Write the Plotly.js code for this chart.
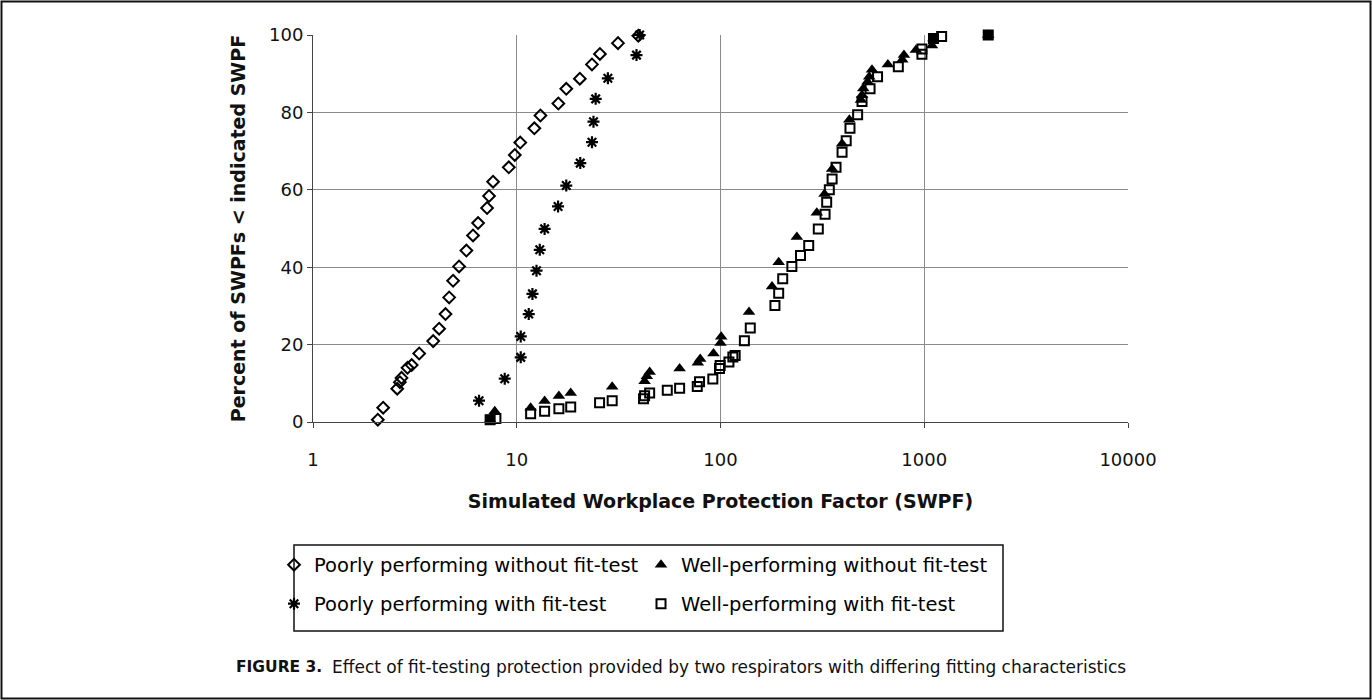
<!DOCTYPE html>
<html>
<head>
<meta charset="utf-8">
<script src="https://cdn.plot.ly/plotly-3.0.1.min.js"></script>
<style>
  html, body { margin: 0; padding: 0; background: #ffffff; }
  #chart { width: 1372px; height: 700px; }
</style>
</head>
<body>
<div id="chart"></div>
<script>
// ---- Data ----
// Poorly performing respirator, without fit-test (open diamonds)
const poorNoFitX = [2.08, 2.21, 2.59, 2.67, 2.72, 2.91, 3.05, 3.32, 3.89, 4.16, 4.47, 4.66, 4.87, 5.21, 5.66, 6.10,
                    6.46, 7.15, 7.31, 7.65, 9.14, 9.78, 10.4, 12.2, 13.07, 16.0, 17.5, 20.4, 23.4, 25.6, 31.4, 39.5];
const poorNoFitY = [0.6, 3.7, 8.6, 10.3, 11.4, 14.0, 14.7, 17.7, 20.9, 24.1, 27.9, 32.2, 36.5, 40.2, 44.3, 48.2,
                    51.4, 55.3, 58.4, 62.1, 65.8, 69.0, 72.2, 75.9, 79.2, 82.3, 86.1, 88.7, 92.4, 95.1, 97.9, 99.8];

// Poorly performing respirator, with fit-test (asterisks)
const poorFitX = [6.53, 8.73, 10.46, 10.46, 11.45, 11.94, 12.5, 12.97, 13.7, 15.95, 17.5, 20.5, 23.4, 23.8, 24.4, 28.0, 38.7, 40.1];
const poorFitY = [5.5, 11.2, 16.7, 22.1, 27.9, 33.1, 39.1, 44.5, 49.9, 55.7, 61.1, 66.9, 72.3, 77.6, 83.5, 88.8, 94.8, 100];

// Well-performing respirator, without fit-test (filled triangles)
const wellNoFitX = [7.4, 7.8, 11.7, 13.7, 16.1, 18.4, 29.4, 42.4, 43.5, 44.9, 63, 77.4, 79.5, 92.4, 100, 100.8,
                    138, 179, 193, 237, 297, 324, 353, 395, 429, 489, 495, 502, 527, 537, 554, 663, 780, 795,
                    910, 1091, 1110, 2060];
const wellNoFitY = [0.6, 2.8, 3.7, 5.4, 6.7, 7.5, 9.1, 10.5, 11.8, 12.9, 13.8, 15.3, 16.3, 17.7, 20.4, 22.0,
                    28.4, 35.0, 41.3, 47.8, 54.1, 58.9, 65.4, 71.9, 78.1, 83.2, 84.5, 86.2, 87.9, 89.2, 91.0, 92.4, 93.6, 94.8,
                    96.1, 97.3, 99.1, 100];

// Well-performing respirator, with fit-test (open squares)
const wellFitX = [7.4, 7.9, 11.7, 13.7, 16.1, 18.4, 25.5, 29.4, 41.9, 42.4, 44.9, 54.8, 63, 76.9, 78.9, 91.7,
                  98.9, 99.6, 110, 115, 118, 131, 140, 185, 193, 202, 224, 247, 271, 302, 326, 332, 342, 353,
                  369, 395, 414, 432, 471, 495, 542, 590, 746, 974, 974, 1110, 1217, 2060];
const wellFitY = [0.6, 0.9, 2.1, 2.8, 3.4, 3.9, 5.0, 5.5, 6.0, 6.8, 7.5, 8.2, 8.7, 9.2, 10.4, 11.1,
                  13.8, 14.6, 15.5, 16.8, 17.2, 21.0, 24.3, 30.1, 33.3, 37.0, 40.2, 43.0, 45.6, 49.9, 53.7, 56.8, 60.0, 62.8,
                  65.8, 69.7, 72.7, 75.9, 79.4, 82.8, 86.1, 89.2, 91.8, 95.0, 96.4, 99.1, 99.6, 100];

// Points where a triangle and a square coincide (drawn as a filled square)
const overlapX = [7.4, 1110, 2060];
const overlapY = [0.6, 99.1, 100];

const seriesNames = [
  "Poorly performing without fit-test",
  "Well-performing without fit-test",
  "Poorly performing with fit-test",
  "Well-performing with fit-test"
];

const xTickVals = [1, 10, 100, 1000, 10000];
const xTickText = ["1", "10", "100", "1000", "10000"];
const yTickVals = [0, 20, 40, 60, 80, 100];

const xTitle = "Simulated Workplace Protection Factor (SWPF)";
const yTitle = "Percent of SWPFs < indicated SWPF";
const captionLabel = "FIGURE 3.";
const captionText = "Effect of fit-testing protection provided by two respirators with differing fitting characteristics";

// ---- Chart ----
const black = "#000000";
const traces = [
  { type: "scatter", mode: "markers", name: seriesNames[0], x: poorNoFitX, y: poorNoFitY, legend: "legend",
    cliponaxis: false,
    marker: { symbol: "diamond-open", size: 9, color: black, line: { color: black, width: 2 } } },
  { type: "scatter", mode: "markers", name: seriesNames[1], x: wellNoFitX, y: wellNoFitY, legend: "legend",
    cliponaxis: false,
    marker: { symbol: "triangle-up", size: 11, color: black, line: { width: 0 } } },
  { type: "scatter", mode: "markers", name: seriesNames[2], x: poorFitX, y: poorFitY, legend: "legend2",
    cliponaxis: false,
    marker: { symbol: "asterisk-open", size: 10, color: black, line: { color: black, width: 2.2 } } },
  { type: "scatter", mode: "markers", name: seriesNames[3], x: wellFitX, y: wellFitY, legend: "legend2",
    cliponaxis: false,
    marker: { symbol: "square-open", size: 9, color: black, line: { color: black, width: 2 } } },
  { type: "scatter", mode: "markers", name: "overlap", x: overlapX, y: overlapY, showlegend: false,
    cliponaxis: false, hoverinfo: "x+y",
    marker: { symbol: "square", size: 10, color: black, line: { width: 0 } } }
];

const W = 1372, H = 700;
const M = { l: 313, r: 244, t: 35, b: 278 };
const PW = W - M.l - M.r, PH = H - M.t - M.b;
const px = v => (v - M.l) / PW;          // page x -> paper x
const py = v => (H - M.b - v) / PH;      // page y -> paper y

const legendFont = { family: "DejaVu Sans, Liberation Sans, Arial, sans-serif", size: 19.5, color: black };
const legendCommon = {
  orientation: "h", xanchor: "left", yanchor: "middle",
  bgcolor: "rgba(0,0,0,0)", borderwidth: 0, font: legendFont,
  entrywidth: 322, entrywidthmode: "pixels", itemwidth: 30, itemclick: false, itemdoubleclick: false
};

const layout = {
  width: W, height: H,
  margin: M,
  paper_bgcolor: "#ffffff", plot_bgcolor: "#ffffff",
  font: { family: "DejaVu Sans, Liberation Sans, Arial, sans-serif", color: black },
  showlegend: true,
  xaxis: {
    type: "log", range: [0, 4], tickmode: "array", tickvals: xTickVals, ticktext: xTickText,
    showgrid: true, gridcolor: "#8a8a8a", gridwidth: 1,
    showline: true, linecolor: "#444444", linewidth: 1,
    ticks: "outside", ticklen: 5, tickcolor: "#444444", ticklabelstandoff: 16,
    tickfont: { family: "DejaVu Sans, Liberation Sans, Arial, sans-serif", size: 18, color: "#111111" },
    zeroline: false, fixedrange: true,
    title: { text: xTitle, standoff: 26,
             font: { family: "DejaVu Sans, Liberation Sans, Arial, sans-serif", size: 19, weight: "bold", color: "#111111" } }
  },
  yaxis: {
    range: [0, 100], tickmode: "array", tickvals: yTickVals,
    showgrid: true, gridcolor: "#8a8a8a", gridwidth: 1,
    showline: true, linecolor: "#444444", linewidth: 1,
    ticks: "outside", ticklen: 5, tickcolor: "#444444",
    tickfont: { family: "DejaVu Sans, Liberation Sans, Arial, sans-serif", size: 18, color: "#111111" },
    zeroline: false, fixedrange: true,
    title: { text: yTitle, standoff: 18,
             font: { family: "DejaVu Sans, Liberation Sans, Arial, sans-serif", size: 19, weight: "bold", color: "#111111" } }
  },
  legend: Object.assign({}, legendCommon, { x: px(274), y: py(565) }),
  legend2: Object.assign({}, legendCommon, { x: px(274), y: py(604) }),
  shapes: [
    // legend frame
    { type: "rect", xref: "paper", yref: "paper", x0: px(294), x1: px(1003), y0: py(631), y1: py(545),
      line: { color: "#111111", width: 1.5 }, fillcolor: "rgba(0,0,0,0)", layer: "above" },
    // outer figure frame
    { type: "rect", xref: "paper", yref: "paper", x0: px(1.5), x1: px(1370.5), y0: py(698.5), y1: py(1.5),
      line: { color: "#111111", width: 2 }, fillcolor: "rgba(0,0,0,0)", layer: "above" }
  ],
  annotations: [
    { xref: "paper", yref: "paper", x: px(234), y: py(667), xanchor: "left", yanchor: "middle", showarrow: false,
      text: "<b>" + captionLabel + "</b>",
      font: { family: "DejaVu Sans, Liberation Sans, Arial, sans-serif", size: 15.5, color: "#111111" } },
    { xref: "paper", yref: "paper", x: px(330), y: py(667), xanchor: "left", yanchor: "middle", showarrow: false,
      text: captionText,
      font: { family: "DejaVu Sans, Liberation Sans, Arial, sans-serif", size: 17, color: "#111111" } }
  ]
};

Plotly.newPlot("chart", traces, layout, { displayModeBar: false, staticPlot: false, responsive: false });
</script>
</body>
</html>
